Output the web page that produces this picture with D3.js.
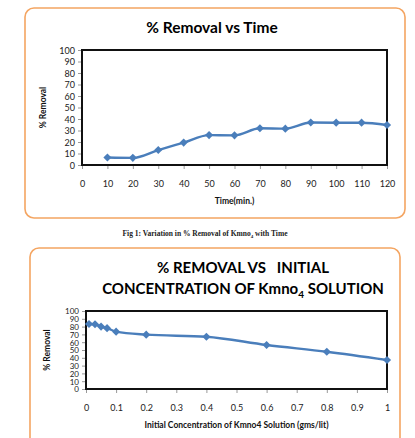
<!DOCTYPE html>
<html>
<head>
<meta charset="utf-8">
<style>
  body { margin: 0; background: #fff; }
  text { font-family: Lato, "Open Sans", sans-serif; }
</style>
</head>
<body>
<svg id="container" width="415" height="438"></svg>
<script src="https://cdn.jsdelivr.net/npm/d3@7"></script>
<script>
// chart 1: % removal vs time
const timeMin = [10, 20, 30, 40, 50, 60, 70, 80, 90, 100, 110, 120]
const removalByTime = [6.5, 6.2, 13, 19.5, 26, 25.8, 31.9, 31.6, 36.9, 36.8, 36.8, 34.8]
const timeTicks = [0, 10, 20, 30, 40, 50, 60, 70, 80, 90, 100, 110, 120]

// chart 2: % removal vs initial concentration
const concentration = [0.01, 0.03, 0.05, 0.07, 0.1, 0.2, 0.4, 0.6, 0.8, 1.0]
const removalByConc = [83.3, 83, 80, 78, 73.5, 69.7, 67, 56.4, 47.8, 37.2]
const concTicks = [0, 0.1, 0.2, 0.3, 0.4, 0.5, 0.6, 0.7, 0.8, 0.9, 1]

const removalTicks = [0, 10, 20, 30, 40, 50, 60, 70, 80, 90, 100]

const svg = d3.select("#container")
const orange = "#F4A562"
const blue = "#4A7EBB"

function drawChart(cfg) {
  let g = svg.append("g")

  g.append("rect")
    .attr("x", cfg.box[0]).attr("y", cfg.box[1])
    .attr("width", cfg.box[2]).attr("height", cfg.box[3])
    .attr("rx", 9).attr("ry", 9)
    .attr("fill", "white").attr("stroke", orange).attr("stroke-width", 1.6)

  let x = d3.scaleLinear().domain(cfg.xDomain).range([cfg.plot[0], cfg.plot[2]])
  let y = d3.scaleLinear().domain([0, 100]).range([cfg.plot[3], cfg.plot[1]])

  let xAxis = g.append("g")
    .attr("transform", `translate(0,${cfg.plot[3]})`)
    .call(d3.axisBottom(x).tickValues(cfg.xTicks).tickSize(4).tickPadding(cfg.xPad).tickFormat(cfg.xFormat))
  let yAxis = g.append("g")
    .attr("transform", `translate(${cfg.plot[0]},0)`)
    .call(d3.axisLeft(y).tickValues(removalTicks).tickSize(4).tickPadding(3))

  for (let ax of [xAxis, yAxis]) {
    ax.select(".domain").remove()
    ax.selectAll("line").attr("stroke", "#999")
    ax.selectAll("text")
      .attr("fill", "#222")
      .style("font-family", "Lato, sans-serif")
      .style("font-size", cfg.tickSize + "px")
  }
  yAxis.selectAll("text").style("font-size", cfg.yTickSize + "px").attr("dy", "0.35em")

  g.append("rect")
    .attr("x", cfg.plot[0]).attr("y", cfg.plot[1])
    .attr("width", cfg.plot[2] - cfg.plot[0]).attr("height", cfg.plot[3] - cfg.plot[1])
    .attr("fill", "none").attr("stroke", "#111").attr("stroke-width", 2)

  let pts = cfg.xs.map((d, i) => [d, cfg.ys[i]])
  let line = d3.line().x(d => x(d[0])).y(d => y(d[1])).curve(d3.curveMonotoneX)
  g.append("path")
    .attr("d", line(pts))
    .attr("fill", "none").attr("stroke", blue).attr("stroke-width", 2.4)

  g.selectAll(".pt").data(pts).enter().append("path")
    .attr("class", "pt")
    .attr("d", d3.symbol(d3.symbolDiamond2, 42))
    .attr("transform", d => `translate(${x(d[0])},${y(d[1])})`)
    .attr("fill", blue)

  let cx = (cfg.plot[0] + cfg.plot[2]) / 2
  let cy = (cfg.plot[1] + cfg.plot[3]) / 2
  g.append("text")
    .attr("x", cx).attr("y", cfg.xTitleY)
    .attr("text-anchor", "middle")
    .style("font-size", "8.5px").style("font-weight", "bold")
    .attr("fill", "#111")
    .text(cfg.xTitle)
  g.append("text")
    .attr("transform", `translate(${cfg.yTitleX},${cy}) rotate(-90)`)
    .attr("text-anchor", "middle")
    .style("font-size", "8.5px").style("font-weight", "bold")
    .attr("fill", "#111")
    .text("% Removal")
  return g
}

let c1 = drawChart({
  box: [25, 8, 380, 210],
  plot: [82, 50, 387, 165],
  xDomain: [0, 120], xTicks: timeTicks, xPad: 12, xFormat: d3.format("d"),
  xs: timeMin, ys: removalByTime,
  tickSize: 9, yTickSize: 9,
  xTitle: "Time(min.)", xTitleY: 204, yTitleX: 46
})
c1.append("text")
  .attr("x", 212).attr("y", 33)
  .attr("text-anchor", "middle")
  .style("font-size", "15.5px").style("font-weight", "bold")
  .text("% Removal vs Time")

svg.append("text")
  .attr("x", 205).attr("y", 236)
  .attr("text-anchor", "middle")
  .style("font-family", "'Liberation Serif', serif")
  .style("font-size", "7.5px").style("font-weight", "bold")
  .attr("fill", "#222")
  .html('Fig 1: Variation in % Removal of Kmno<tspan dy="1.5" font-size="5">4</tspan><tspan dy="-1.5"> with Time</tspan>')

let c2 = drawChart({
  box: [30, 248, 370, 200],
  plot: [86, 311, 387, 389],
  xDomain: [0, 1], xTicks: concTicks, xPad: 12, xFormat: d => d3.format("")(+d.toFixed(1)),
  xs: concentration, ys: removalByConc,
  tickSize: 9, yTickSize: 8,
  xTitle: "Initial Concentration of Kmno4 Solution (gms/lit)", xTitleY: 428, yTitleX: 50
})
c2.append("text")
  .attr("x", 243).attr("y", 273)
  .attr("text-anchor", "middle")
  .style("font-size", "15px").style("font-weight", "bold")
  .attr("xml:space", "preserve")
  .text("% REMOVAL VS   INITIAL")
c2.append("text")
  .attr("x", 243).attr("y", 294)
  .attr("text-anchor", "middle")
  .style("font-size", "15px").style("font-weight", "bold")
  .html('CONCENTRATION OF Kmno<tspan dy="4" font-size="10">4</tspan><tspan dy="-4"> SOLUTION</tspan>')
</script>
</body>
</html>
